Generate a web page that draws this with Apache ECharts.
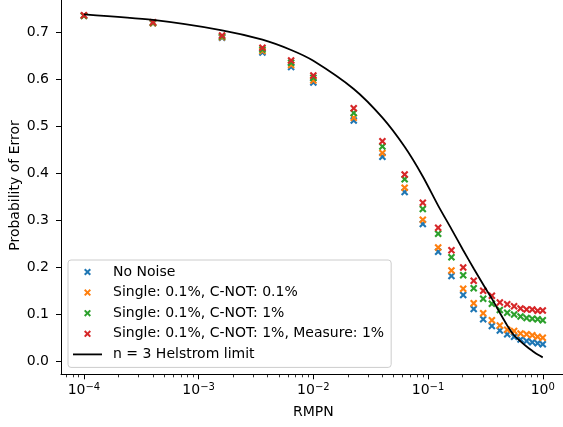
<!DOCTYPE html>
<html>
<head>
<meta charset="utf-8">
<script src="https://cdn.jsdelivr.net/npm/echarts@6/dist/echarts.min.js"></script>
<style>
  html, body { margin: 0; padding: 0; background: #fff; }
  #chart { width: 563px; height: 427px; }
</style>
</head>
<body>
<div id="chart"></div>
<script>
// RMPN sample points
const rmpn = [0.0001, 0.0004, 0.0016, 0.0036, 0.0064, 0.01, 0.0225, 0.04, 0.0625, 0.09,
  0.1225, 0.16, 0.2025, 0.25, 0.3025, 0.36, 0.4225, 0.49, 0.5625, 0.64, 0.7225, 0.81, 0.9025, 1.0];

const noNoise = [0.735, 0.719, 0.688, 0.657, 0.626, 0.593, 0.512, 0.435, 0.360, 0.292,
  0.233, 0.181, 0.141, 0.111, 0.089, 0.075, 0.065, 0.057, 0.052, 0.046, 0.043, 0.040, 0.038, 0.036];
const lowNoise = [0.735, 0.719, 0.689, 0.660, 0.630, 0.597, 0.518, 0.443, 0.369, 0.301,
  0.242, 0.193, 0.154, 0.123, 0.102, 0.087, 0.076, 0.067, 0.064, 0.059, 0.057, 0.055, 0.052, 0.050];
const cnotNoise = [0.735, 0.720, 0.691, 0.663, 0.635, 0.603, 0.528, 0.457, 0.387, 0.324,
  0.271, 0.221, 0.183, 0.155, 0.133, 0.122, 0.109, 0.103, 0.099, 0.095, 0.092, 0.090, 0.089, 0.087];
const measureNoise = [0.736, 0.721, 0.693, 0.667, 0.640, 0.608, 0.538, 0.468, 0.397, 0.337,
  0.284, 0.236, 0.199, 0.171, 0.150, 0.139, 0.125, 0.121, 0.117, 0.112, 0.110, 0.110, 0.107, 0.108];
const helstrom = [0.738, 0.726, 0.704, 0.684, 0.662, 0.639, 0.579, 0.518, 0.456, 0.393,
  0.331, 0.281, 0.236, 0.197, 0.163, 0.133, 0.103, 0.076, 0.055, 0.042, 0.031, 0.022, 0.014, 0.008];

const seriesNames = [
  "No Noise",
  "Single: 0.1%, C-NOT: 0.1%",
  "Single: 0.1%, C-NOT: 1%",
  "Single: 0.1%, C-NOT: 1%, Measure: 1%"
];
const lineName = "n = 3 Helstrom limit";
const yTitle = "Probability of Error";
const colors = ["#1f77b4", "#ff7f0e", "#2ca02c", "#d62728"];

const yTicks = [0, 0.1, 0.2, 0.3, 0.4, 0.5, 0.6, 0.7];
const xMajor = [1e-4, 1e-3, 1e-2, 1e-1, 1];

const xMin = Math.pow(10, -4.2);
const xMax = Math.pow(10, 0.2);
const xMinor = [];
for (let e = -5; e <= 0; e++) {
  for (let k = 2; k <= 9; k++) {
    const v = k * Math.pow(10, e);
    if (v > xMin && v < xMax) xMinor.push(v);
  }
}

const xMark = "path://M2,0L5,3L8,0L10,2L7,5L10,8L8,10L5,7L2,10L0,8L3,5L0,2Z";
const lineIcon = "path://M0,0L29,0L29,1.8L0,1.8Z";
const font = "DejaVu Sans";

function supLabel(v) {
  const e = Math.round(Math.log10(v));
  return "{b|10}{s|" + (e < 0 ? "\u2212" + (-e) : e) + "}";
}

const scatterSeries = [noNoise, lowNoise, cnotNoise, measureNoise].map((ys, i) => ({
  name: seriesNames[i],
  type: "scatter",
  xAxisIndex: 0,
  data: rmpn.map((x, j) => [x, ys[j]]),
  symbol: xMark,
  symbolSize: 7.5,
  itemStyle: { color: colors[i], opacity: 1 },
  z: 2 + i * 0.01
}));

const chart = echarts.init(document.getElementById("chart"));
chart.setOption({
  animation: false,
  grid: { left: 61, right: -2.7, top: -3.3, bottom: 52.7, outerBoundsMode: "none", containLabel: false },
  // y axis title, placed by hand (axis name kept snapping to the label edge)
  graphic: [{
    type: "text",
    x: 15,
    y: 185.5,
    rotation: Math.PI / 2,
    style: {
      text: yTitle,
      fontFamily: font,
      fontSize: 14,
      fill: "#000",
      align: "center",
      verticalAlign: "middle"
    }
  }],
  xAxis: [
    {
      type: "log",
      position: "bottom",
      min: xMin,
      max: xMax,
      name: "RMPN",
      nameLocation: "middle",
      nameGap: 31,
      nameTextStyle: { fontFamily: font, fontSize: 14, color: "#000" },
      axisLine: { show: true, onZero: false, lineStyle: { color: "#000", width: 1 } },
      axisTick: { show: true, length: 5, customValues: xMajor, lineStyle: { color: "#000", width: 1 } },
      axisLabel: {
        customValues: xMajor,
        margin: 8,
        formatter: supLabel,
        rich: {
          b: { fontFamily: font, fontSize: 14, color: "#000" },
          s: { fontFamily: font, fontSize: 10, color: "#000", padding: [0, 0, 7, 0] }
        }
      },
      splitLine: { show: false }
    },
    {
      type: "log",
      position: "bottom",
      min: xMin,
      max: xMax,
      axisLine: { show: false, onZero: false },
      axisTick: { show: true, length: 3, customValues: xMinor, lineStyle: { color: "#000", width: 0.8 } },
      axisLabel: { show: false },
      splitLine: { show: false }
    }
  ],
  yAxis: {
    type: "value",
    min: -0.028,
    max: 0.7755,
    axisLine: { show: true, onZero: false, lineStyle: { color: "#000", width: 1 } },
    axisTick: { show: true, length: 5, customValues: yTicks, lineStyle: { color: "#000", width: 1 } },
    axisLabel: {
      customValues: yTicks,
      margin: 12,
      fontFamily: font,
      fontSize: 14,
      color: "#000",
      formatter: v => v.toFixed(1)
    },
    splitLine: { show: false }
  },
  legend: {
    orient: "vertical",
    left: 68,
    top: 260,
    padding: [4, 7, 5, 5],
    itemGap: 4.6,
    itemWidth: 29,
    itemHeight: 7,
    backgroundColor: "rgba(255,255,255,0.8)",
    borderColor: "#cccccc",
    borderWidth: 1,
    borderRadius: 3,
    textStyle: { fontFamily: font, fontSize: 14, color: "#000", lineHeight: 16, padding: [0, 0, 0, 6] },
    data: seriesNames.map(n => ({ name: n, icon: xMark })).concat([{ name: lineName, icon: lineIcon }])
  },
  series: scatterSeries.concat([{
    name: lineName,
    type: "line",
    xAxisIndex: 0,
    data: rmpn.map((x, j) => [x, helstrom[j]]),
    symbol: "none",
    smooth: 0.25,
    lineStyle: { color: "#000", width: 1.8 },
    itemStyle: { color: "#000" },
    z: 3
  }])
});
</script>
</body>
</html>
